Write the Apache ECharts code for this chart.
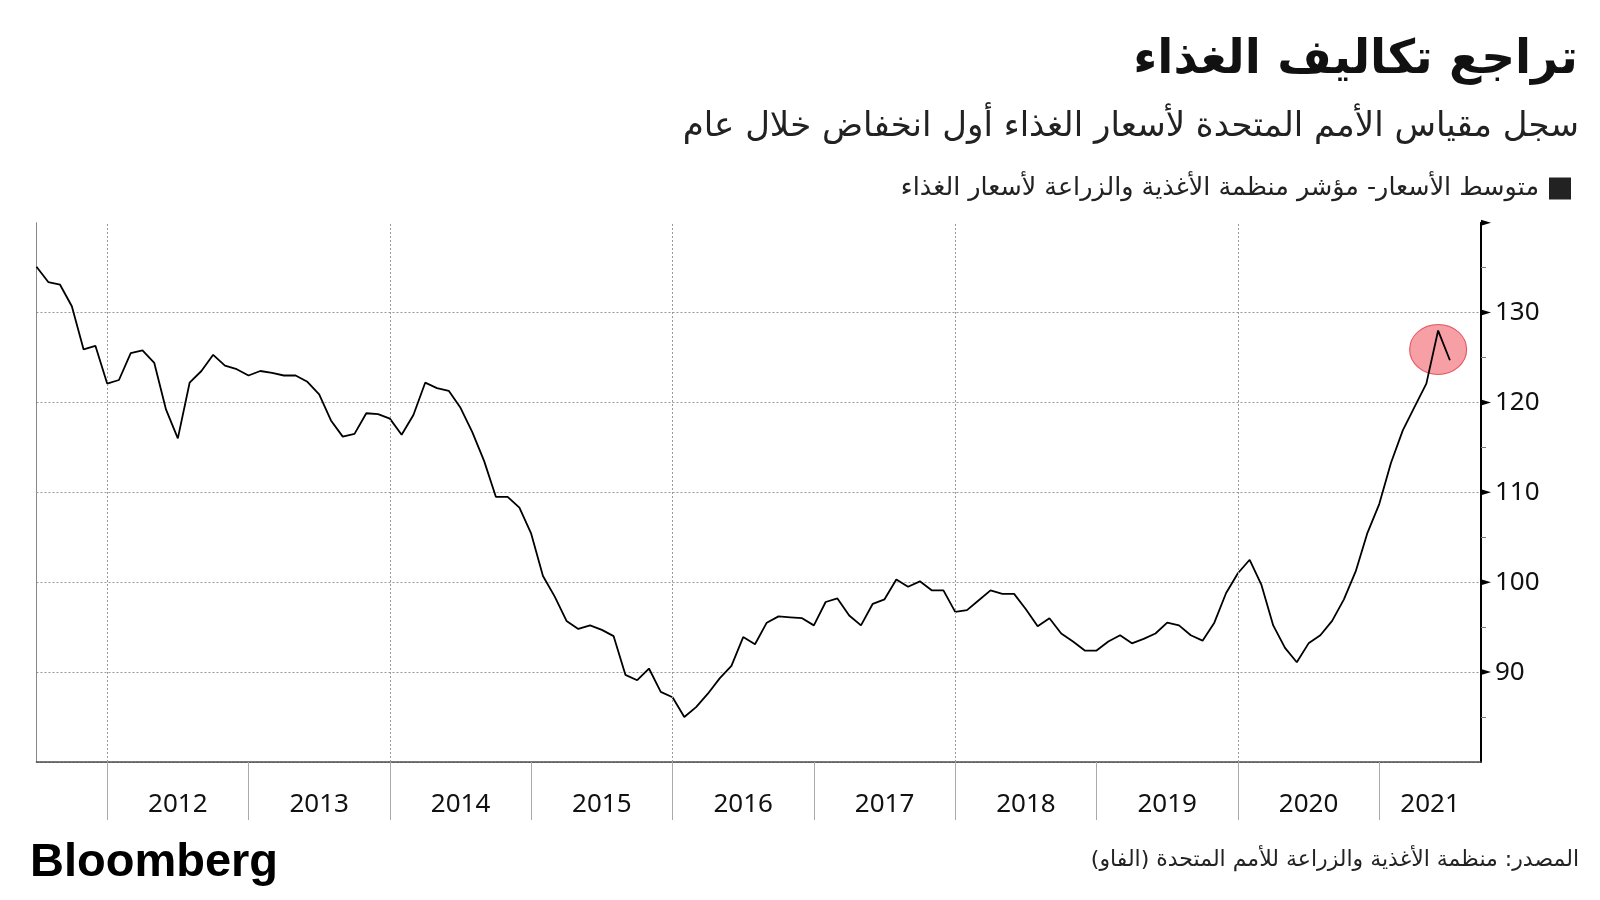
<!DOCTYPE html>
<html>
<head>
<meta charset="utf-8">
<script src="https://cdn.jsdelivr.net/npm/echarts@6/dist/echarts.min.js"></script>
<style>
html,body{margin:0;padding:0;background:#fff;}
#c{width:1600px;height:900px;}
</style>
</head>
<body>
<div id="c" dir="rtl"></div>
<script>
// ---- Texts ----
const titleText = 'تراجع تكاليف الغذاء';
const subtitleText = 'سجل مقياس الأمم المتحدة لأسعار الغذاء أول انخفاض خلال عام';
const seriesName = 'متوسط الأسعار- مؤشر منظمة الأغذية والزراعة لأسعار الغذاء';
const sourceText = 'المصدر: منظمة الأغذية والزراعة للأمم المتحدة (الفاو)';
const brandText = 'Bloomberg';

// ---- Data: FAO Food Price Index, monthly, first month June 2011 ----
const startYear = 2011, startMonth = 6;
const values2011 = [135.1, 133.4, 133.1, 130.7, 125.9, 126.3, 122.1];
const values2012 = [122.5, 125.5, 125.8, 124.4, 119.2, 116.0, 122.2, 123.5, 125.3, 124.1, 123.7, 123.0];
const values2013 = [123.5, 123.3, 123.0, 123.0, 122.3, 120.9, 118.0, 116.2, 116.5, 118.8, 118.7, 118.2];
const values2014 = [116.4, 118.6, 122.2, 121.6, 121.3, 119.4, 116.7, 113.5, 109.5, 109.5, 108.3, 105.4];
const values2015 = [100.7, 98.4, 95.7, 94.8, 95.2, 94.7, 94.0, 89.7, 89.1, 90.4, 87.8, 87.2];
const values2016 = [85.0, 86.1, 87.6, 89.3, 90.7, 93.9, 93.1, 95.5, 96.2, 96.1, 96.0, 95.2];
const values2017 = [97.8, 98.2, 96.3, 95.2, 97.6, 98.1, 100.3, 99.5, 100.1, 99.1, 99.1, 96.7];
const values2018 = [96.9, 98.0, 99.1, 98.7, 98.7, 97.0, 95.1, 96.0, 94.3, 93.4, 92.4, 92.4];
const values2019 = [93.4, 94.1, 93.2, 93.7, 94.3, 95.5, 95.2, 94.1, 93.5, 95.5, 98.8, 101.0];
const values2020 = [102.5, 99.7, 95.2, 92.7, 91.1, 93.2, 94.1, 95.7, 98.1, 101.2, 105.5, 108.7];
const values2021 = [113.3, 116.9, 119.5, 122.1, 128.0, 124.7];

// highlighted point (circle annotation)
const highlightYear = 2021, highlightMonth = 5, highlightValue = 125.9;

// ---- Axis ticks ----
const yearTicks = [2012, 2013, 2014, 2015, 2016, 2017, 2018, 2019, 2020, 2021];
const gridYears = [2012, 2014, 2016, 2018, 2020];
const yMajorTicks = [90, 100, 110, 120, 130, 140];
const xMin = 2011.5, xMax = 2021.72;
const yMin = 80, yMax = 140;

// build series (x = month-end as fractional year)
const allValues = [].concat(values2011, values2012, values2013, values2014, values2015,
  values2016, values2017, values2018, values2019, values2020, values2021);
const lineData = allValues.map((v, i) => {
  const m = startMonth + i;
  return [startYear + m / 12, v];
});
const labelPos = yearTicks.map(y => (Math.max(y, xMin) + Math.min(y + 1, xMax)) / 2);

const arabicFont = '"DejaVu Sans", sans-serif';
const numFont = '"Noto Sans", "Open Sans", sans-serif';

const chart = echarts.init(document.getElementById('c'), null, {renderer: 'canvas'});
chart.setOption({
  animation: false,
  backgroundColor: '#fff',
  grid: {left: 36.5, right: 119, top: 222.7, bottom: 138},
  legend: {
    data: [seriesName],
    right: 29, top: 176, padding: 0,
    icon: 'rect', itemWidth: 22, itemHeight: 22, align: 'right',
    textStyle: {fontSize: 25.4, fontFamily: arabicFont, color: '#222', padding: [0, 5, 0, 0]}
  },
  xAxis: {
    type: 'value', min: xMin, max: xMax,
    axisLine: {show: true, onZero: false, lineStyle: {color: '#444', type: [2, 1], width: 1.5}},
    axisTick: {show: true, customValues: yearTicks, length: 58, lineStyle: {color: '#aaa', width: 1}},
    axisLabel: {
      customValues: labelPos, margin: 30, fontSize: 26, color: '#111', fontFamily: numFont,
      formatter: v => String(Math.floor(v + 1e-6))
    },
    splitLine: {show: false}
  },
  yAxis: [{
    type: 'value', position: 'right', min: yMin, max: yMax, interval: 10,
    axisLine: {show: true, onZero: false, lineStyle: {color: '#000', width: 2}},
    axisTick: {show: false},
    minorTick: {show: true, splitNumber: 2, length: 5, lineStyle: {color: '#777', width: 1}},
    axisLabel: {
      margin: 14, fontSize: 26, color: '#111', fontFamily: numFont,
      showMinLabel: false, showMaxLabel: false
    },
    splitLine: {show: true, showMaxLine: false, lineStyle: {color: '#999', type: [2, 2], width: 1}}
  }, {
    type: 'value', position: 'left', min: yMin, max: yMax, interval: 10,
    axisLine: {show: true, onZero: false, lineStyle: {color: '#888', width: 1}},
    axisTick: {show: false}, axisLabel: {show: false}, splitLine: {show: false}
  }],
  series: [{
    type: 'scatter', name: 'highlight', silent: true, z: 1,
    data: [[highlightYear + highlightMonth / 12, highlightValue]],
    symbolSize: [57, 50],
    itemStyle: {color: 'rgba(236,55,65,0.6)', borderColor: '#e03545', borderWidth: 1}
  }, {
    type: 'line', name: seriesName, data: lineData, showSymbol: false, z: 3,
    lineStyle: {color: '#000', width: 1.8},
    itemStyle: {color: '#222'},
    markLine: {
      silent: true, symbol: 'none', label: {show: false},
      lineStyle: {color: '#999', type: [2, 2], width: 1},
      data: gridYears.map(y => ({xAxis: y}))
    }
  }, {
    // triangular major tick markers on the right value axis
    type: 'custom', name: 'axisMarkers', silent: true, clip: false, z: 5,
    data: yMajorTicks.map(v => [xMax, v]),
    renderItem: function (params, api) {
      const p = api.coord([api.value(0), api.value(1)]);
      return {
        type: 'polygon',
        shape: {points: [[p[0], p[1] - 3], [p[0] + 10, p[1]], [p[0], p[1] + 3]]},
        style: {fill: '#000'}
      };
    }
  }],
  graphic: [
    {type: 'text', style: {text: titleText, x: 1578, y: 61, align: 'right', verticalAlign: 'middle',
      font: 'bold 47px ' + arabicFont, fill: '#111'}},
    {type: 'text', style: {text: subtitleText, x: 1579, y: 127, align: 'right', verticalAlign: 'middle',
      font: '34px ' + arabicFont, fill: '#222'}},
    {type: 'text', style: {text: sourceText, x: 1579, y: 860, align: 'right', verticalAlign: 'middle',
      font: '22px ' + arabicFont, fill: '#222'}},
    {type: 'text', style: {text: brandText, x: 30, y: 863, align: 'left', verticalAlign: 'middle',
      font: 'bold 47px "Liberation Sans", Arial, sans-serif', fill: '#000'}}
  ]
});
</script>
</body>
</html>
